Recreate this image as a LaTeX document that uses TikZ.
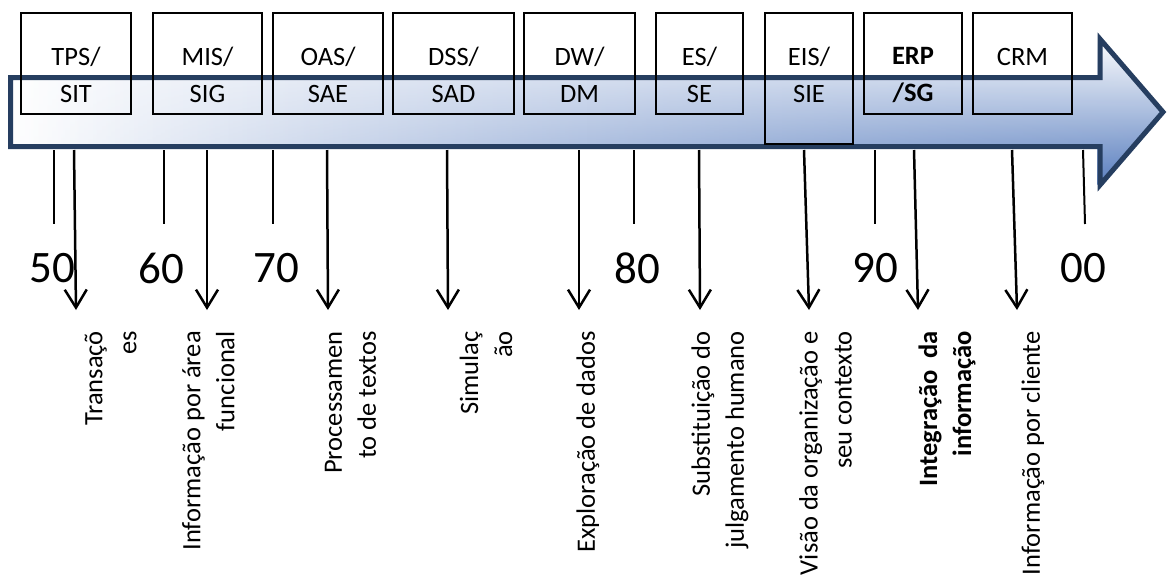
\documentclass[tikz,border=0pt]{standalone}
\usepackage{fontspec}
\setmainfont{Carlito}
\usetikzlibrary{arrows.meta,fadings}
\definecolor{arrowedge}{RGB}{38,62,96}
\definecolor{arrowblue}{RGB}{86,124,190}
\definecolor{arrowlight}{RGB}{178,194,226}
\tikzfading[name=fadeinright, left color=transparent!100, right color=transparent!0]
\begin{document}
\begin{tikzpicture}[x=1pt,y=-1pt,
  sysbox/.style={draw=black, line width=1.8pt, inner sep=0pt, minimum height=101pt},
  boxtext/.style={inner sep=0pt, align=center, font=\fontsize{26.5}{37}\selectfont},
  decade/.style={inner sep=0pt, font=\fontsize{45}{50}\selectfont},
  tick/.style={draw=black, line width=2pt},
  pointer/.style={draw=black, line width=2.5pt, -{Straight Barb[length=18pt,width=22pt,line width=2.5pt]}},
  vlabel/.style={inner sep=0pt, rotate=90, anchor=east, align=right, font=\fontsize{26.5}{34}\selectfont}]
\useasboundingbox (0,0) rectangle (1169,576);

% the time line arrow
\def\timearrow{(10.5,77.5) -- (1100,77.5) -- (1100,39) -- (1163,112) -- (1100,185) -- (1100,146.5) -- (10.5,146.5) -- cycle}
\shade[left color=white, right color=arrowlight] \timearrow;
\shade[top color=white, bottom color=arrowblue, path fading=fadeinright] \timearrow;
\draw[arrowedge, line width=5pt, line join=miter] \timearrow;

% system boxes
\node (b1) [sysbox, minimum width=110pt] at (76,63.5) {};
\node (b2) [sysbox, minimum width=109pt] at (207.5,63.5) {};
\node (b3) [sysbox, minimum width=110pt] at (328,63.5) {};
\node (b4) [sysbox, minimum width=121pt] at (453.5,63.5) {};
\node (b5) [sysbox, minimum width=111pt] at (579.5,63.5) {};
\node (b6) [sysbox, minimum width=87pt] at (699.5,63.5) {};
\node (b7) [sysbox, minimum width=88pt, minimum height=131pt] at (809,78.5) {};
\node (b8) [sysbox, minimum width=98pt] at (913,63.5) {};
\node (b9) [sysbox, minimum width=99pt] at (1022.5,63.5) {};

\node (t1) [boxtext] at (76,75) {TPS/\\SIT};
\node (t2) [boxtext] at (207.5,75) {MIS/\\SIG};
\node (t3) [boxtext] at (328,75) {OAS/\\SAE};
\node (t4) [boxtext] at (453.5,75) {DSS/\\SAD};
\node (t5) [boxtext] at (579.5,75) {DW/\\DM};
\node (t6) [boxtext] at (699.5,75) {ES/\\SE};
\node (t7) [boxtext] at (809,75) {EIS/\\SIE};
\node (t8) [boxtext, font=\fontsize{26.5}{37}\selectfont\bfseries] at (913,75) {ERP\\/SG};
\node (t9) [boxtext] at (1022.5,57) {CRM};

% decade ticks
\coordinate (k1a) at (54,150);   \coordinate (k1b) at (54,224);
\coordinate (k2a) at (164,150);  \coordinate (k2b) at (164,224);
\coordinate (k3a) at (273,150);  \coordinate (k3b) at (273,224);
\coordinate (k4a) at (634,150);  \coordinate (k4b) at (634,224);
\coordinate (k5a) at (875,150);  \coordinate (k5b) at (875,224);
\coordinate (k6a) at (1083,150); \coordinate (k6b) at (1085,224);
\foreach \i in {1,...,6} \draw[tick] (k\i a) -- (k\i b);

\node (d1) [decade] at (52,268) {50};
\node (d2) [decade] at (161,268) {60};
\node (d3) [decade] at (276,268) {70};
\node (d4) [decade] at (637,268) {80};
\node (d5) [decade] at (875,268) {90};
\node (d6) [decade] at (1083,268) {00};

% pointers to the descriptions
\coordinate (p1a) at (74,150);   \coordinate (p1b) at (76,310);
\coordinate (p2a) at (207,150);  \coordinate (p2b) at (207,310);
\coordinate (p3a) at (327,150);  \coordinate (p3b) at (328,310);
\coordinate (p4a) at (447,150);  \coordinate (p4b) at (448,310);
\coordinate (p5a) at (579,150);  \coordinate (p5b) at (579,310);
\coordinate (p6a) at (699,150);  \coordinate (p6b) at (700,310);
\coordinate (p7a) at (804,150);  \coordinate (p7b) at (809,310);
\coordinate (p8a) at (914,150);  \coordinate (p8b) at (918,310);
\coordinate (p9a) at (1012,150); \coordinate (p9b) at (1017,310);
\foreach \i in {1,...,9} \draw[pointer] (p\i a) -- (p\i b);

% descriptions
\node (l1) [vlabel] at (110.5,331) {Transaçõ\\es};
\node (l2) [vlabel] at (208.5,331) {Informação por área\\funcional};
\node (l3) [vlabel] at (350.5,331) {Processamen\\to de textos};
\node (l4) [vlabel] at (486,331) {Simulaç\\ão};
\node (l5) [vlabel] at (588,331) {Exploração de dados};
\node (l6) [vlabel] at (720,331) {Substituição do\\julgamento humano};
\node (l7) [vlabel] at (825.5,331) {Visão da organização e\\seu contexto};
\node (l8) [vlabel, font=\fontsize{26.5}{34}\selectfont\bfseries] at (947,331) {Integração\hspace{12pt}da\\informação};
\node (l9) [vlabel] at (1033,331) {Informação por cliente};
\end{tikzpicture}
\end{document}
